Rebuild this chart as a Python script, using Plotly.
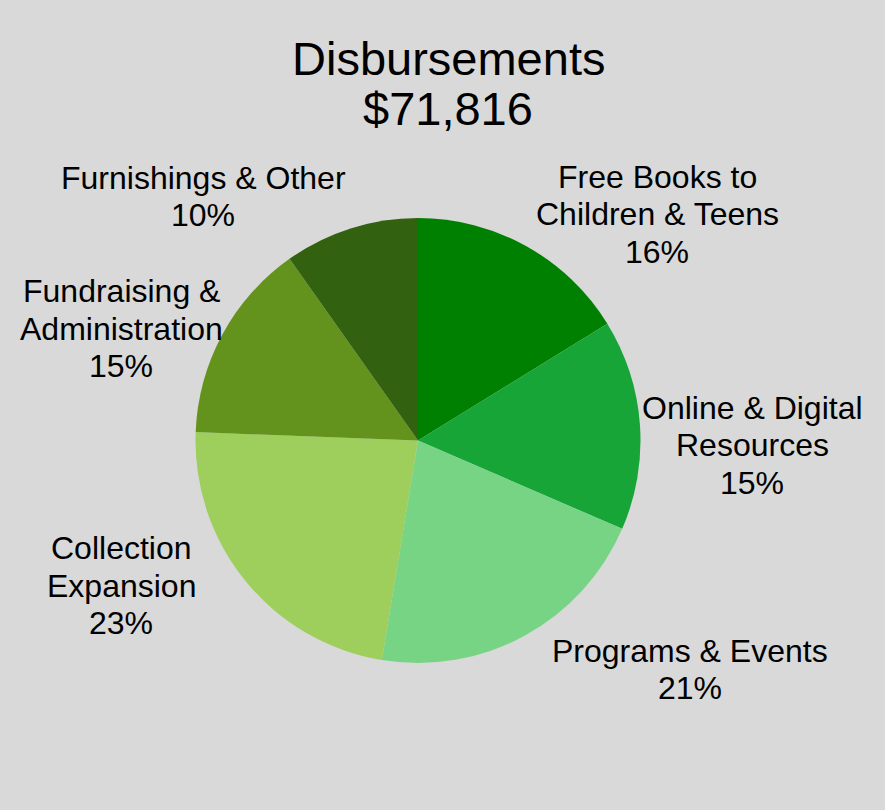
import plotly.graph_objects as go

# ---------------------------------------------------------------
# data
categories = ['Free Books to\nChildren & Teens',
              'Online & Digital\nResources',
              'Programs & Events',
              'Collection\nExpansion',
              'Fundraising &\nAdministration',
              'Furnishings & Other']
amounts = [11634, 10988, 15153, 16518, 10485, 7038]
colors = ['#008000', '#18a538', '#77d484', '#9ece5c', '#63921d', '#326210']
title_lines = ['Disbursements']

# label centre x and first baseline y, in pixels of the 885x810 page
label_pos = [(657, 188), (752, 419), (690, 662), (121, 559.5), (121, 302.5), (203, 189)]

W, H = 885, 810
FS = 32        # label font size
LINE = 37.5    # label line step
TFS = 47       # title font size


def px_x(x):
    return x / W


def px_y(y):
    return 1 - y / H


total = sum(amounts)
fig = go.Figure()
fig.add_trace(go.Pie(
    labels=[c.replace('\n', ' ') for c in categories],
    values=amounts,
    sort=False,
    direction='clockwise',
    rotation=0,
    marker=dict(colors=colors, line=dict(width=0)),
    textinfo='none',
    hoverinfo='label+percent+value',
    domain=dict(x=[px_x(195.5), px_x(640.5)], y=[px_y(663), px_y(218)]),
    showlegend=False,
))

annotations = []


def add_line(text, x, baseline, size):
    # centre of the text box sits ~0.3465em above the baseline
    annotations.append(dict(
        text=text, x=px_x(x), y=px_y(baseline - 0.3465 * size),
        xref='paper', yref='paper', xanchor='center', yanchor='middle',
        showarrow=False, font=dict(family='Liberation Sans', size=size, color='black'),
    ))


title_lines = title_lines + ['${:,}'.format(total)]
for i, t in enumerate(title_lines):
    add_line(t, 448, 75 + i * 50, TFS)

for cat, val, (x, y0) in zip(categories, amounts, label_pos):
    lines = cat.split('\n') + ['{:.0f}%'.format(val / total * 100)]
    for j, t in enumerate(lines):
        add_line(t, x, y0 + j * LINE, FS)

fig.update_layout(
    width=W, height=H,
    margin=dict(l=0, r=0, t=0, b=0),
    paper_bgcolor='#d9d9d9',
    plot_bgcolor='#d9d9d9',
    annotations=annotations,
)
fig.write_html("out.html", config={'displayModeBar': False},
               post_script="document.body.style.margin='0px';")
